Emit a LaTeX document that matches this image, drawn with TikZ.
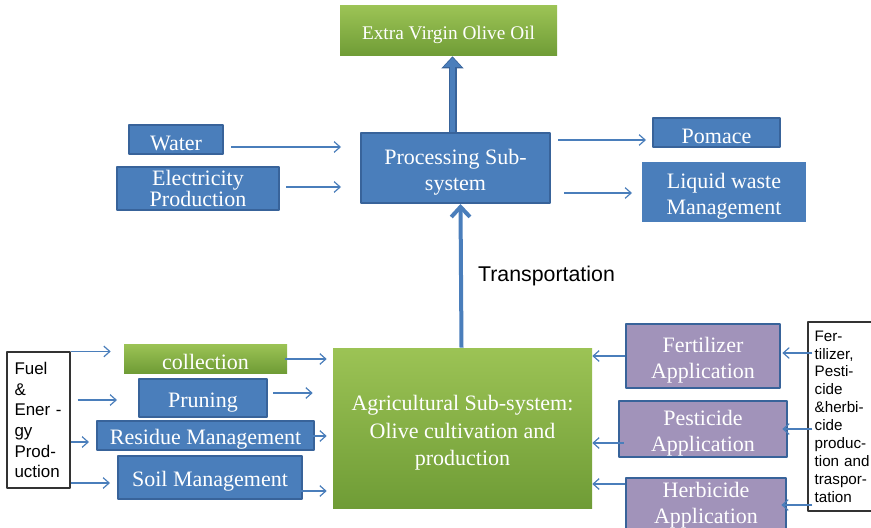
\documentclass[tikz,border=0pt]{standalone}
\usepackage{fontspec}
\setmainfont{Liberation Serif}
\setsansfont{Liberation Sans}
\usetikzlibrary{arrows.meta,calc}
\definecolor{boxblue}{HTML}{4A7EBB}
\definecolor{edgeblue}{HTML}{38639A}
\definecolor{leafhi}{HTML}{9CC355}
\definecolor{leaflo}{HTML}{6F9C36}
\definecolor{plum}{HTML}{A193BA}
\newcommand{\lift}[1][1.05em]{\rule{0pt}{#1}}
\begin{document}
\begin{tikzpicture}[x=0.75pt, y=-0.75pt, line join=round, font=\fontsize{16.5}{19.5}\selectfont,
	boxtext/.style={text=white, align=center, inner sep=0pt, execute at begin node={\lift}},
	bluebox/.style={boxtext, draw=edgeblue, line width=1.5pt, fill=boxblue},
	greenbox/.style={boxtext, top color=leafhi, bottom color=leaflo},
	plumbox/.style={boxtext, draw=edgeblue, line width=2pt, fill=plum},
	notebox/.style={draw=black!80, line width=0.8pt, fill=white, align=left, inner xsep=5pt, inner ysep=0pt, font=\sffamily\fontsize{12.7}{15.5}\selectfont},
	flow/.style={draw=boxblue, line width=0.9pt, -{Straight Barb[length=4.5pt,width=8pt]}},
	haul/.style={draw=boxblue, line width=3pt, -{Straight Barb[length=7.5pt,width=14pt]}},
	fat/.style={draw=boxblue, line width=4pt, -{Triangle[length=7pt,width=13pt]}, shorten >=1pt,
		preaction={draw=edgeblue, line width=6pt, shorten >=0pt, -{Triangle[length=9pt,width=16pt]}}}]
		\useasboundingbox (0,0) rectangle (871,528);
		% processing
		\node[greenbox, minimum width=162.75pt, minimum height=37.5pt, font=\fontsize{14.5}{17}\selectfont] (oil) at (448.5,31) {Extra Virgin Olive Oil};
		\node[bluebox, minimum width=141.75pt, minimum height=52.5pt] (proc) at (455.5,168) {\lift Processing Sub-\\system};
		\node[bluebox, minimum width=70.5pt, minimum height=21.75pt] (water) at (176,139.5) {Water};
		\node[bluebox, minimum width=121.5pt, minimum height=32.25pt, font=\fontsize{16.5}{15}\selectfont] (power) at (198,188.5) {Electricity\\Production};
		\node[bluebox, minimum width=95.25pt, minimum height=21.75pt] (pomace) at (716.5,132.5) {Pomace};
		\node[bluebox, draw=none, minimum width=123pt, minimum height=45pt] (liquid) at (724,192) {\lift Liquid waste\\Management};
		% agriculture
		\node[greenbox, minimum width=194.25pt, minimum height=120pt, font=\fontsize{16.5}{20.6}\selectfont] (agri) at (462.5,428) {\lift[1.15em]Agricultural Sub-system:\\Olive cultivation and\\production};
		\node[greenbox, minimum width=122.25pt, minimum height=21.75pt] (collect) at (205.5,358.5) {collection};
		\node[bluebox, minimum width=96pt, minimum height=28.5pt] (prune) at (203,398) {Pruning};
		\node[bluebox, minimum width=162.75pt, minimum height=21.75pt] (residue) at (205.5,435.5) {Residue Management};
		\node[bluebox, minimum width=138pt, minimum height=32.25pt] (soil) at (210,477.5) {Soil Management};
		\node[notebox, minimum width=47.25pt, minimum height=102pt, text width=36pt] (fuel) at (38.5,420) {Fuel\\\&\\Ener -\\gy\\Prod-\\uction};
		\node[plumbox, minimum width=115.5pt, minimum height=48pt] (fert) at (703,356) {\lift Fertilizer\\Application};
		\node[plumbox, minimum width=126pt, minimum height=42pt] (pest) at (703,429) {\lift Pesticide\\Application};
		\node[plumbox, minimum width=120pt, minimum height=40.5pt] (herb) at (706,505) {Herbicide\\Application};
		\node[notebox, font=\sffamily\fontsize{11.4}{13.4}\selectfont, minimum width=54pt, minimum height=141.75pt, text width=44pt] (chem) at (844,416.5) {Fer-\\tilizer,\\Pesti-\\cide\\\&herbi-\\cide\\produc-\\tion and\\traspor-\\tation};
		% main flow
		\draw[fat] ($(proc.north)+(-3,0)$) -- ($(oil.south)+(4,0)$);
		\draw[haul] ($(agri.north)+(-1,0)$) -- ($(proc.south)+(5,0)$)
			node[midway, right=8pt, font=\sffamily\fontsize{16}{19}\selectfont] (trans) {Transportation};
		% inputs and outputs of processing
		\draw[flow] ($(water.east)+(7,7.5)$) -- ($(water.east -| proc.west)+(-19,7.5)$);
		\draw[flow] ($(power.east)+(6,-1.5)$) -- ($(power.east -| proc.west)+(-19,-1.5)$);
		\draw[flow] ($(pomace.west -| proc.east)+(7,7.5)$) -- ($(pomace.west)+(-6,7.5)$);
		\draw[flow] ($(liquid.west -| proc.east)+(13,1)$) -- ($(liquid.west)+(-9,1)$);
		% fuel to field work
		\draw[flow] (fuel.north east) -- ($(collect.west |- fuel.north east)+(-13,0)$);
		\draw[flow] ($(fuel.east |- prune.west)+(7,2)$) -- ($(prune.west)+(-21,2)$);
		\draw[flow] ($(fuel.east |- residue.west)+(0,6.5)$) -- ($(residue.west)+(-7,6.5)$);
		\draw[flow] ($(fuel.east |- soil.west)+(0,5.5)$) -- ($(soil.west)+(-7,5.5)$);
		% field work to agriculture
		\draw[flow] ($(collect.east)+(-2,0.5)$) -- ($(collect.east -| agri.west)+(-6,0.5)$);
		\draw[flow] ($(prune.east)+(5,-5)$) -- ($(prune.east -| agri.west)+(-20,-5)$);
		\draw[flow] ($(residue.east)+(-4,0.5)$) -- ($(residue.east -| agri.west)+(-6,0.5)$);
		\draw[flow] ($(soil.east)+(-16,13.5)$) -- ($(soil.east -| agri.west)+(-6,13.5)$);
		% chemicals
		\draw[flow] (fert.west) -- (fert.west -| agri.east);
		\draw[flow] ($(pest.west)+(6,14)$) -- ($(pest.west -| agri.east)+(0,14)$);
		\draw[flow] ($(herb.west)+(0,-21)$) -- ($(herb.west -| agri.east)+(0,-21)$);
		\draw[flow] ($(chem.west |- fert.east)+(5,-3)$) -- ($(fert.east)+(1,-3)$);
		\draw[flow] ($(chem.west |- pest.east)+(5,0)$) -- ($(pest.east)+(-6,0)$);
		\draw[flow] ($(chem.west |- herb.east)+(5,0)$) -- ($(herb.east)+(-6,0)$);
	\end{tikzpicture}
\end{document}
